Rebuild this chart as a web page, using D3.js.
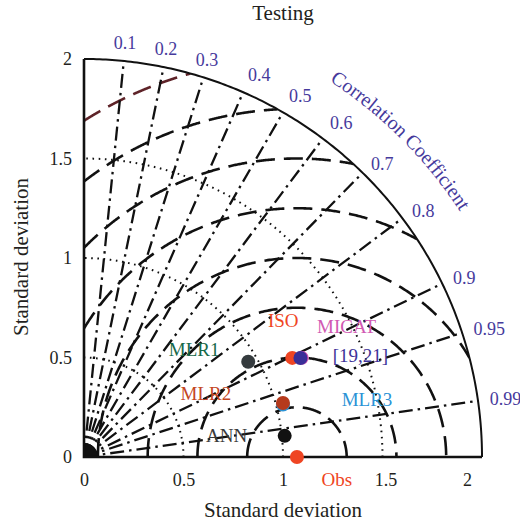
<!DOCTYPE html>
<html>
<head>
<meta charset="utf-8">
<script src="https://cdn.jsdelivr.net/npm/d3@7"></script>
<style>
  html, body { margin: 0; padding: 0; background: #ffffff; }
  svg { display: block; font-family: "Liberation Serif", "Times New Roman", serif; }
</style>
</head>
<body>
<svg id="chart" width="520" height="523"></svg>
<script>
// Taylor diagram: standard deviation vs. correlation, testing period
const models    = ["Obs", "ANN", "MLR3", "MLR2", "ISO", "MICAT", "[19,21]", "MLR1"];
const modelStd  = [1.07, 1.014, 1.034, 1.036, 1.159, 1.202, 1.196, 0.954];
const modelCorr = [1.0, 0.9945, 0.967, 0.965, 0.903, 0.910, 0.9095, 0.865];

const corrTicks = [0.1, 0.2, 0.3, 0.4, 0.5, 0.6, 0.7, 0.8, 0.9, 0.95, 0.99];
const stdTicks  = [0, 0.5, 1, 1.5, 2];
const stdArcs   = [0.5, 1, 1.5];
const rmsLevels = [0.25, 0.5, 0.75, 1, 1.25, 1.5, 1.75, 2];
const stdMax = 2;

// styling and label placement (pixel offsets from each marker)
const markColors  = ["#ef4523", "#111111", "#2b93d6", "#b53a1c", "#ef4523", "#d24fb2", "#3a2f98", "#353b3e"];
const labelColors = ["#ef4523", "#3a3a3a", "#2b93d6", "#c4461f", "#ef4523", "#d159b3", "#3d3399", "#17694a"];
const labelOffsets = [[40, 29], [-58, 6], [84, 1], [-77, -3], [-9, -31], [45, -25], [60, 3.5], [-54, -6]];
const corrColor = "#463a9c";
const inkColor = "#231f20";

const svg = d3.select("#chart");
const x = d3.scaleLinear().domain([0, stdMax]).range([84, 482]);
const y = d3.scaleLinear().domain([0, stdMax]).range([457, 59]);

const obsStd = modelStd[0];
const toXY = (s, c) => [s * c, s * Math.sqrt(Math.max(0, 1 - c * c))];
const line = d3.line().x(d => x(d[0])).y(d => y(d[1]));

// clip region: quarter disk of radius stdMax
const defs = svg.append("defs");
const quarter = [[0, 0]].concat(d3.range(0, 181).map(i => {
  const t = i / 180 * Math.PI / 2;
  return [stdMax * Math.cos(t), stdMax * Math.sin(t)];
}));
defs.append("clipPath").attr("id", "quarter")
  .append("path").attr("d", line(quarter) + "Z");

const grid = svg.append("g").attr("clip-path", "url(#quarter)");

// dotted standard-deviation arcs
stdArcs.forEach(s => {
  const pts = d3.range(0, 201).map(i => {
    const t = i / 200 * Math.PI / 2;
    return [s * Math.cos(t), s * Math.sin(t)];
  });
  grid.append("path").attr("d", line(pts))
    .attr("fill", "none").attr("stroke", "#111")
    .attr("stroke-width", 2).attr("stroke-dasharray", "1.6,4.6");
});

// centred RMS difference arcs around the observation point
rmsLevels.forEach((R, i) => {
  let tMin = 0, tMax = Math.PI;
  if (obsStd + R > stdMax) {
    const xi = (stdMax * stdMax + obsStd * obsStd - R * R) / (2 * obsStd);
    tMin = Math.acos(Math.max(-1, Math.min(1, (xi - obsStd) / R)));
  }
  if (obsStd - R < 0) tMax = Math.acos(-obsStd / R);
  if (tMax <= tMin) return;
  const pts = d3.range(0, 301).map(k => {
    const t = tMax - (tMax - tMin) * k / 300;
    return [obsStd + R * Math.cos(t), R * Math.sin(t)];
  });
  grid.append("path").attr("d", line(pts))
    .attr("fill", "none")
    .attr("stroke", i === rmsLevels.length - 1 ? "#5e2328" : "#111")
    .attr("stroke-width", 2.6).attr("stroke-dasharray", "19,9");
});

// dash-dot correlation rays
corrTicks.forEach(c => {
  const th = Math.acos(c);
  grid.append("path")
    .attr("d", line([[0, 0], [stdMax * Math.cos(th), stdMax * Math.sin(th)]]))
    .attr("fill", "none").attr("stroke", "#111")
    .attr("stroke-width", 2.3).attr("stroke-dasharray", "14,5,2.5,5");
});

// dense hub at the origin
const hub = d3.range(0, 91).map(i => {
  const t = i / 90 * Math.PI / 2;
  return [0.07 * Math.cos(t), 0.07 * Math.sin(t)];
});
grid.append("path").attr("d", line([[0, 0]].concat(hub)) + "Z").attr("fill", "#111");

// outer arc and axes
const outer = d3.range(0, 201).map(i => {
  const t = i / 200 * Math.PI / 2;
  return [stdMax * Math.cos(t), stdMax * Math.sin(t)];
});
svg.append("path").attr("d", line(outer))
  .attr("fill", "none").attr("stroke", "#111").attr("stroke-width", 2);
svg.append("path").attr("d", line([[0, stdMax], [0, 0], [stdMax, 0]]))
  .attr("fill", "none").attr("stroke", "#111").attr("stroke-width", 2.6);

// standard deviation axes
const xAxis = svg.append("g").attr("transform", `translate(0,${y(0)})`)
  .call(d3.axisBottom(x).tickValues(stdTicks).tickFormat(d3.format("")).tickSize(0).tickPadding(16));
const yAxis = svg.append("g").attr("transform", `translate(${x(0)},0)`)
  .call(d3.axisLeft(y).tickValues(stdTicks).tickFormat(d3.format("")).tickSize(0).tickPadding(12));
[xAxis, yAxis].forEach(a => {
  a.select(".domain").remove();
  a.selectAll("text").attr("font-size", 18).attr("fill", inkColor)
    .attr("font-family", "Liberation Serif, serif");
});
xAxis.selectAll(".tick text").filter(d => d === 1.5).attr("dx", 3);
xAxis.selectAll(".tick text").filter(d => d === stdMax).attr("dx", -15);

// correlation labels around the arc
const rLab = 2.06;
svg.append("g").selectAll("text").data(corrTicks).join("text")
  .each(function (c) {
    const th = Math.acos(c), deg = th * 180 / Math.PI;
    const t = d3.select(this)
      .attr("x", x(rLab * Math.cos(th)))
      .attr("y", y(rLab * Math.sin(th)))
      .attr("font-size", 18).attr("fill", corrColor)
      .text(c);
    if (deg > 70) t.attr("text-anchor", "middle");
    else t.attr("text-anchor", "start");
    if (deg < 50) t.attr("dy", "0.33em");
  });

// curved axis title for correlation, set glyph by glyph along an arc
const rTitle = 449;
const a0 = 62 * Math.PI / 180, a1 = 28 * Math.PI / 180;
const cx = x(0), cy = y(0);
defs.append("path").attr("id", "corrPath")
  .attr("d", `M${cx + rTitle * Math.cos(a0)},${cy - rTitle * Math.sin(a0)} A${rTitle},${rTitle} 0 0 1 ${cx + rTitle * Math.cos(a1)},${cy - rTitle * Math.sin(a1)}`);
const titleText = "Correlation Coefficient";
const guide = svg.append("text").attr("font-size", 20).attr("fill", corrColor);
guide.append("textPath").attr("href", "#corrPath")
  .attr("startOffset", "50%").attr("text-anchor", "middle")
  .text(titleText);
const gNode = guide.node();
const glyphs = [];
for (let i = 0; i < titleText.length; i++) {
  if (titleText[i] === " ") continue;
  try {
    const p = gNode.getStartPositionOfChar(i);
    const r = gNode.getRotationOfChar(i);
    glyphs.push({ ch: titleText[i], x: p.x, y: p.y, r });
  } catch (e) { glyphs.length = 0; break; }
}
if (glyphs.length) {
  guide.remove();
  svg.append("g").selectAll("text").data(glyphs).join("text")
    .attr("transform", d => `translate(${d.x},${d.y}) rotate(${d.r})`)
    .attr("font-size", 20).attr("fill", corrColor)
    .text(d => d.ch);
}

// model markers and labels
const pts = models.map((m, i) => {
  const [u, v] = toXY(modelStd[i], modelCorr[i]);
  return { name: m, px: x(u), py: y(v), i };
});
svg.append("g").selectAll("circle").data(pts).join("circle")
  .attr("cx", d => d.px).attr("cy", d => d.py).attr("r", 7)
  .attr("fill", d => markColors[d.i]);
svg.append("g").selectAll("text").data(pts).join("text")
  .attr("x", d => d.px + labelOffsets[d.i][0])
  .attr("y", d => d.py + labelOffsets[d.i][1])
  .attr("text-anchor", "middle").attr("font-size", 19)
  .attr("fill", d => labelColors[d.i])
  .text(d => d.name);

// titles
svg.append("text").attr("x", 283).attr("y", 20).attr("text-anchor", "middle")
  .attr("font-size", 21).attr("fill", inkColor).text("Testing");
svg.append("text").attr("x", 283).attr("y", 517).attr("text-anchor", "middle")
  .attr("font-size", 21).attr("fill", inkColor).text("Standard deviation");
svg.append("text").attr("transform", "translate(28,257) rotate(-90)")
  .attr("text-anchor", "middle").attr("font-size", 21).attr("fill", inkColor)
  .text("Standard deviation");
</script>
</body>
</html>
